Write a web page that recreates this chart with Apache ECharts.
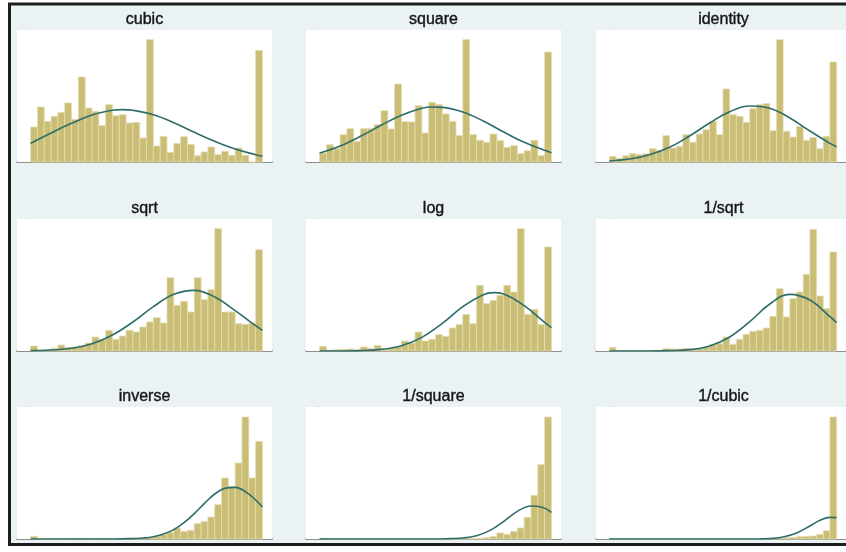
<!DOCTYPE html>
<html>
<head>
<meta charset="utf-8">
<title>Ladder of powers</title>
<script src="https://cdn.jsdelivr.net/npm/echarts@6/dist/echarts.min.js"></script>
<style>
  html, body { margin: 0; padding: 0; background: #ffffff; }
  #chart { width: 846px; height: 552px; }
</style>
</head>
<body>
<div id="chart"></div>
<script>
// Panel titles, one per transformation of the variable
const transforms = ['cubic', 'square', 'identity', 'sqrt', 'log', '1/sqrt', 'inverse', '1/square', '1/cubic'];

// Histogram heights for the 34 bins of each transformed variable
const cubicBins    = [105,165,122,137,149,177,128,255,162,152,109,172,139,142,117,119,72,367,48,77,29,56,76,53,19,30,45,22,32,20,42,20,0,335];
const squareBins   = [27,52,40,82,100,62,100,100,112,154,99,234,121,120,169,87,179,172,144,122,79,367,82,65,59,84,64,44,49,25,34,65,19,330];
const identityBins = [17,11,19,25,22,25,40,35,79,42,47,82,59,84,97,122,82,219,142,137,119,160,172,175,94,367,92,75,107,65,74,40,77,300];
const sqrtBins     = [15,3,4,8,18,10,12,17,24,42,34,62,35,45,62,57,72,87,100,84,220,137,149,117,220,154,184,367,117,117,82,80,84,304];
const logBins      = [14,3,4,5,6,5,12,8,17,4,6,12,30,24,57,30,35,49,44,69,79,110,82,197,142,152,167,197,177,367,110,125,79,312];
const invSqrtBins  = [11,1,1,1,1,2,2,2,7,6,6,8,5,8,12,20,22,42,20,35,50,59,62,69,104,187,102,157,177,230,365,165,127,297];
const inverseBins  = [8,1,1,1,1,2,2,2,2,2,2,2,2,2,3,3,4,5,8,13,20,33,23,26,46,53,66,103,183,158,228,366,183,293];
const invSquareBins= [3,1,1,1,1,1,1,1,1,1,1,1,1,1,1,1,1,1,1,1,1,1,1,2,4,8,18,14,23,33,65,131,223,366];
const invCubicBins = [2,1,1,1,1,1,1,1,1,1,1,1,1,1,1,1,1,1,1,1,1,1,1,1,2,3,4,5,7,8,9,14,25,366];

// Normal density overlays, sampled as [bin position, height]
const cubicCurve    = [[0,56],[3,87],[6,116],[9,141],[12,155],[13.5,157],[15,155],[18,142],[21,118],[24,89],[27,62],[30,39],[33,22],[34,18]];
const squareCurve   = [[0,27],[3,48],[6,77],[9,110],[12,140],[15,161],[16.5,165],[18,164],[21,150],[24,123],[27,90],[30,59],[33,35],[34,28]];
const identityCurve = [[0,3],[3,9],[6,22],[9,44],[12,78],[15,117],[18,151],[21,168],[24,161],[27,132],[30,93],[33,56],[34,46]];
const sqrtCurve     = [[0,1],[3,3],[6,8],[9,22],[12,48],[15,87],[18,133],[21,170],[24,182],[27,162],[30,121],[33,76],[34,62]];
const logCurve      = [[0,0],[3,0],[6,1],[9,5],[12,16],[15,41],[18,83],[21,133],[24,169],[25.5,175],[27,171],[30,136],[33,86],[34,70]];
const invSqrtCurve  = [[0,0],[3,0],[6,0],[9,1],[12,4],[15,15],[18,42],[21,88],[24,141],[27,170],[30,153],[33,103],[34,85]];
const inverseCurve  = [[0,0],[3,0],[6,0],[9,0],[12,0],[15,1],[16.5,3],[18,7],[19.5,15],[21,28],[22.5,49],[24,76],[25.5,107],[27,135],[28.5,152],[30,155],[31.5,142],[33,117],[34,96]];
const invSquareCurve= [[0,0],[5,0],[10,0],[15,0],[17,0],[19,1],[21,3],[23,10],[25,26],[27,53],[29,83],[31,99],[32.5,96],[34,80]];
const invCubicCurve = [[0,0],[5,0],[10,0],[15,0],[20,0],[22,0],[24,1],[26,6],[28,18],[30,39],[31.5,56],[33,65],[34,64]];

const panelBins   = [cubicBins, squareBins, identityBins, sqrtBins, logBins, invSqrtBins, inverseBins, invSquareBins, invCubicBins];
const panelCurves = [cubicCurve, squareCurve, identityCurve, sqrtCurve, logCurve, invSqrtCurve, inverseCurve, invSquareCurve, invCubicCurve];

// Panel layout (pixels)
const colLeft = [17, 306, 596];
const rowTop  = [30, 219, 407];
const plotW = 255, plotH = 132;
const xMin = -2.0, xMax = 35.4, yMax = 396;

const FONT = 'Liberation Sans, Arial, Helvetica, sans-serif';
const BAR_FILL = '#cabd75';
const BAR_EDGE = '#e4ddb0';
const CURVE = '#2d6d6a';

const grids = [], xAxes = [], yAxes = [], titles = [], series = [];

transforms.forEach((name, k) => {
  const r = Math.floor(k / 3), c = k % 3;
  const left = colLeft[c], top = rowTop[r];
  grids.push({
    left: left, top: top, width: plotW, height: plotH,
    show: true, backgroundColor: '#ffffff', borderWidth: 0, z: 1
  });
  xAxes.push({
    gridIndex: k, type: 'value', min: xMin, max: xMax,
    axisLine: { show: true, onZero: false, lineStyle: { color: '#6f6f6f', width: 1.5 } },
    axisTick: { show: false }, axisLabel: { show: false }, splitLine: { show: false }
  });
  yAxes.push({
    gridIndex: k, type: 'value', min: 0, max: yMax,
    axisLine: { show: true, lineStyle: { color: '#9a9a9a', width: 1.2 } },
    axisTick: { show: false }, axisLabel: { show: false }, splitLine: { show: false }
  });
  titles.push({
    text: name, left: left + plotW / 2, top: top - 18, textAlign: 'center', padding: 0,
    textStyle: {
      fontFamily: FONT, fontSize: 16, fontWeight: 'normal', color: '#15151d',
      textBorderColor: '#15151d', textBorderWidth: 0.4
    }
  });
  series.push({
    type: 'custom', xAxisIndex: k, yAxisIndex: k, z: 2,
    data: panelBins[k].map((h, i) => [i, h]),
    encode: { x: 0, y: 1 },
    renderItem: function (params, api) {
      const i = api.value(0), h = api.value(1);
      const p0 = api.coord([i, h]);
      const p1 = api.coord([i + 1, 0]);
      return {
        type: 'rect',
        shape: { x: p0[0], y: p0[1], width: p1[0] - p0[0], height: p1[1] - p0[1] },
        style: { fill: BAR_FILL, stroke: BAR_EDGE, lineWidth: 0.8 }
      };
    }
  });
  series.push({
    type: 'line', xAxisIndex: k, yAxisIndex: k, z: 3,
    data: panelCurves[k], smooth: 0.4, showSymbol: false,
    lineStyle: { color: CURVE, width: 1.6 }
  });
});

const chart = echarts.init(document.getElementById('chart'), null, { renderer: 'canvas' });
chart.setOption({
  animation: false,
  backgroundColor: '#ffffff',
  graphic: [{
    type: 'rect', z: -10, silent: true,
    shape: { x: 9.5, y: 4, width: 860, height: 540.5 },
    style: { fill: '#eaf2f3', stroke: '#1d1d1d', lineWidth: 3 }
  }],
  title: titles,
  grid: grids,
  xAxis: xAxes,
  yAxis: yAxes,
  series: series
});
</script>
</body>
</html>
